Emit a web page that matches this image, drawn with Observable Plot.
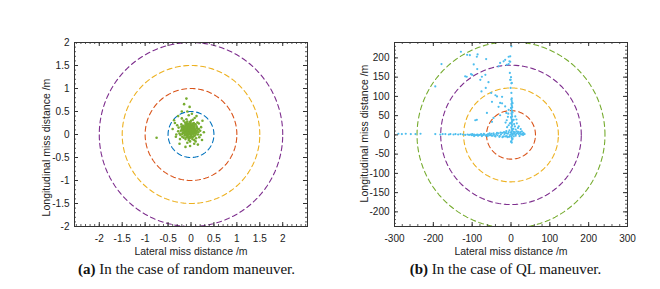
<!DOCTYPE html>
<html><head><meta charset="utf-8">
<script src="https://cdn.jsdelivr.net/npm/d3@7"></script>
<script src="https://cdn.jsdelivr.net/npm/@observablehq/plot@0.6"></script>
<style>
body{margin:0;background:#fff;}
#wrap{position:relative;width:660px;height:289px;overflow:hidden;background:#fff;}
#wrap svg{position:absolute;top:0;}
.cap{position:absolute;top:261px;font-family:"Liberation Serif","Times New Roman",serif;font-size:15px;line-height:17px;text-align:center;width:320px;color:#111;white-space:nowrap;}
</style></head><body><div id="wrap"></div>
<script>
// ---- Panel (a): random maneuver, miss distances (lateral, longitudinal) in m
const randomManeuverPts = [
 [-0.05,0.08],[-0.02,0.12],[0.03,0.05],[-0.10,0.10],[-0.08,0.02],[0.00,0.00],[0.05,0.12],[-0.13,0.06],[-0.04,0.18],[0.02,0.20],
 [-0.15,0.15],[0.08,0.03],[-0.18,0.04],[-0.07,-0.03],[0.04,-0.05],[-0.11,0.20],[0.10,0.10],[-0.20,0.12],[-0.01,0.25],[0.06,0.18],
 [-0.14,-0.02],[0.12,0.06],[-0.22,0.08],[-0.06,0.24],[0.09,-0.02],[-0.03,-0.08],[-0.17,0.19],[0.13,0.14],[-0.09,0.14],[0.01,0.09],
 [-0.12,0.00],[0.07,0.08],[-0.06,0.05],[-0.02,0.02],[0.04,0.15],[-0.16,0.10],[-0.10,-0.06],[0.03,-0.10],[-0.25,0.02],[0.15,0.00],
 [-0.08,0.28],[0.10,0.22],[-0.21,0.22],[-0.19,-0.05],[0.11,-0.08],[-0.05,-0.12],[0.06,0.25],[-0.13,0.26],[0.00,0.30],[-0.27,0.15],
 [0.17,0.12],[-0.03,0.14],[-0.07,0.11],[0.02,0.07],[-0.11,0.04],[-0.04,0.01],[0.05,0.01],[-0.09,0.07],[-0.01,0.16],[-0.14,0.12],
 [0.08,0.14],[-0.06,0.19],[0.03,0.23],[-0.18,0.16],[0.12,0.18],[-0.23,-0.01],[-0.12,-0.10],[0.07,-0.12],[-0.02,-0.15],[0.16,0.05],
 [-0.28,0.07],[-0.16,0.30],[0.04,0.32],[-0.10,0.33],[0.14,0.26],[0.20,0.08],[-0.30,0.20],[0.18,-0.06],[-0.24,-0.10],[-0.08,-0.18],
 [0.10,-0.15],[-0.32,0.00],[0.22,0.16],[-0.20,0.35],[0.08,0.36],
 [-0.06,0.09],[-0.03,0.04],[0.01,0.13],[-0.08,0.16],[-0.12,0.08],[0.00,0.05],[-0.04,0.10],[-0.10,0.13],[0.02,0.02],[-0.07,0.00],
 [0.05,0.09],[-0.15,0.03],[-0.05,0.15],[-0.01,0.21],[0.09,0.06],[-0.13,0.17],[-0.09,0.22],[0.06,-0.04],[-0.17,0.08],[0.01,-0.03],
 [-0.11,0.25],[0.11,0.02],[-0.19,0.01],[-0.02,0.27],[0.07,0.21],[-0.06,-0.07],[0.14,0.09],[-0.21,0.17],[0.03,0.17],[-0.16,-0.07],
 [-0.37,0.31],[0.17,0.24],[0.21,-0.01],[-0.33,-0.05],[-0.12,-0.27],[0.07,-0.20],[-0.15,0.66],[-0.03,0.60],[-0.08,0.50],[-0.10,0.78],
 [-0.75,-0.07],[0.25,0.30],[-0.28,0.40],[0.02,0.45],[-0.40,0.12],[0.28,0.05],[-0.25,-0.20],[0.15,-0.22],[-0.05,0.42],[-0.20,0.50],
 [0.12,0.40],[-0.02,-0.25],[-0.35,0.25],[0.24,-0.12],
 [-0.07,0.06],[-0.01,0.06],[-0.09,0.04],[-0.03,0.09],[-0.06,0.13],[0.00,0.11],[-0.11,0.15],[0.04,0.10],[-0.14,0.09],[-0.05,0.03],
 [0.02,0.16],[-0.08,0.19],[-0.12,0.21],[0.05,0.05],[-0.02,-0.04],[-0.09,-0.01],[0.08,0.11],[-0.16,0.14],[-0.04,0.22],[0.01,-0.06]
];
const radiiA = [0.5, 1, 1.5, 2];
const colorsA = ["#0072BD", "#D95319", "#EDB120", "#7E2F8E"];
const xTicksA = [-2, -1.5, -1, -0.5, 0, 0.5, 1, 1.5, 2];
const yTicksA = [-2, -1.5, -1, -0.5, 0, 0.5, 1, 1.5, 2];

// ---- Panel (b): QL maneuver
const qlManeuverPts = [
 [-290,3],[-281,2],[-271,3],[-258,2],[-246,2],[-233,3],[-195,2],[-182,1],[-176,2],[-169,2],[-160,1],[-156,2],[-148,1],[-143,2],[-136,1],[-130,2],[-124,1],[-118,0],[-112,1],
 [-108,0],[-104,1],[-101,-1],[-98,0],[-95,1],[-92,-1],[-89,0],[-86,1],[-83,-1],[-80,0],[-77,2],[-74,-1],[-71,0],[-68,1],[-65,-2],[-62,0],[-59,2],[-56,-1],[-53,0],[-50,3],
 [-47,-2],[-44,1],[-41,-3],[-38,2],[-35,-1],[-32,4],[-29,-3],[-26,1],[-23,5],[-20,-4],[-17,2],[-14,6],[-11,-3],[-8,3],[-5,-5],[-2,1],
 [-50,-2],[-45,4],[-40,-4],[-36,5],[-30,-5],[-27,6],[-22,-6],[-18,7],[-15,-4],[-12,4],[-9,-6],[-6,7],[-3,-3],[-60,-3],[-70,3],[-85,-2],[-95,-3],[-100,2],[-75,-3],[-55,4],
 [2,-20],[1,-16],[3,-12],[2,-8],[1,-4],[3,0],[2,4],[1,8],[3,12],[2,16],[1,20],[3,24],[2,28],[1,32],[3,36],[2,40],[1,44],[3,48],[2,52],[1,56],
 [3,60],[2,64],[1,68],[3,72],[2,76],[1,80],[3,84],[2,88],[1,92],[2,95],[0,-18],[4,-10],[0,6],[4,14],[0,30],[4,38],[0,46],[4,58],[0,70],[4,82],
 [1,109],[-1,122],[2,135],[-2,143],[0,150],[-3,161],[-6,184],[-4,191],[-2,204],[-11,182],[-15,195],[-6,203],[-2,190],[1,230],[-1,143],[1,134],
 [5,2],[8,4],[11,1],[14,3],[17,5],[20,2],[23,4],[26,1],[29,3],[32,5],[35,2],[6,8],[10,7],[15,9],[19,8],[24,7],[28,9],[31,0],[12,-2],[22,-3],[7,-4],
 [-11,38],[-3,30],[10,22],[-8,47],[7,39],[15,30],[11,48],[-6,25],[-10,20],[6,16],[12,14],[18,18],[-4,12],[-12,10],[8,28],[-14,32],[3,34],[-7,55],[-12,57],[-6,65],[14,40],[20,22],[25,15],
 [-179,184],[-195,126],[-129,216],[-106,207],[-86,209],[-64,197],[-96,183],[-87,171],[-118,152],[-103,158],[-79,143],[-58,137],[-28,187],[-19,191],[-32,178],[-76,113],[-65,122],
 [-51,109],[-36,100],[-28,83],[-15,74],[-88,39],[-62,57],[-45,44],[-113,208],[-88,203],[-100,156],[-75,151],[-66,156],[-114,151],[-40,103],[-23,99],[-49,86],[-32,73],[-23,82],
 [-92,38],[-49,34],[-28,51]
];
const radiiB = [63, 122, 181, 242];
const colorsB = ["#D95319", "#EDB120", "#7E2F8E", "#77AC30"];
const xTicksB = [-300, -200, -100, 0, 100, 200, 300];
const yTicksB = [-200, -150, -100, -50, 0, 50, 100, 150, 200];

const captionA = "In the case of random maneuver.";
const captionB = "In the case of QL maneuver.";
const xLabel = "Lateral miss distance /m";
const yLabel = "Longitudinal miss distance /m";

function circlePts(r) {
  return d3.range(0, 361, 2).map(a => ({x: r * Math.cos(a * Math.PI / 180), y: r * Math.sin(a * Math.PI / 180)}));
}

function panel(o) {
  const W = 330, H = 262, mT = 42, mB = 36;
  const fh = H - mT - mB;
  const ink = "#333";
  const marks = [];
  o.radii.forEach((r, i) => marks.push(Plot.line(circlePts(r), {x: "x", y: "y", stroke: o.colors[i], strokeWidth: 1.1, strokeDasharray: "5,3.5", clip: true})));
  marks.push(Plot.dot(o.pts, {x: d => d[0], y: d => d[1], r: o.r, fill: o.color, stroke: null}));
  const tk = (vals, len, sw) => [
    Plot.tickX(vals, {x: d => d, stroke: ink, strokeWidth: sw, insetTop: fh - len}),
    Plot.tickX(vals, {x: d => d, stroke: ink, strokeWidth: sw, insetBottom: fh - len})
  ];
  const fw = W - o.mL - o.mR;
  const tky = (vals, len, sw) => [
    Plot.tickY(vals, {y: d => d, stroke: ink, strokeWidth: sw, insetRight: fw - len}),
    Plot.tickY(vals, {y: d => d, stroke: ink, strokeWidth: sw, insetLeft: fw - len})
  ];
  marks.push(...tk(o.xMinor, 2, 0.8), ...tk(o.xTicks, 4, 1), ...tky(o.yMinor, 2, 0.8), ...tky(o.yTicks, 4, 1));
  marks.push(Plot.frame({stroke: ink, strokeWidth: 1}));
  marks.push(Plot.axisX(o.xTicks, {anchor: "bottom", tickSize: 0, tickPadding: 8, tickFormat: d => String(d), label: null, fill: "#222"}));
  marks.push(Plot.axisY(o.yTicks, {anchor: "left", tickSize: 0, tickPadding: 5, tickFormat: d => String(d), label: null, fill: "#222"}));
  marks.push(Plot.text([xLabel], {frameAnchor: "bottom", dy: 28, textAnchor: "middle", fontSize: 10.5, fill: "#222"}));
  marks.push(Plot.text([yLabel], {frameAnchor: "left", textAnchor: "middle", dx: o.yLabDx, dy: o.yLabDy, rotate: -90, fontSize: 10.5, fill: "#222"}));
  const svg = Plot.plot({
    width: W, height: H, marginLeft: o.mL, marginRight: o.mR, marginTop: mT, marginBottom: mB,
    x: {domain: o.xDomain}, y: {domain: o.yDomain},
    style: {fontFamily: "'Liberation Sans', Arial, sans-serif", fontSize: "10px", background: "transparent", overflow: "visible"},
    marks
  });
  svg.style.left = o.left + "px";
  return svg;
}

const wrap = document.getElementById("wrap");
wrap.appendChild(panel({
  pts: randomManeuverPts, color: "#77AC30", r: 1.3, radii: radiiA, colors: colorsA,
  xDomain: [-2.54, 2.54], yDomain: [-2, 2], xTicks: xTicksA, yTicks: yTicksA,
  xMinor: d3.range(-25, 26).map(v => v / 10), yMinor: d3.range(-20, 21).map(v => v / 10),
  left: 0, mL: 74, mR: 23, yLabDx: -28, yLabDy: 13
}));
wrap.appendChild(panel({
  pts: qlManeuverPts, color: "#4DBEEE", r: 1.1, radii: radiiB, colors: colorsB,
  xDomain: [-300, 300], yDomain: [-238, 240], xTicks: xTicksB, yTicks: yTicksB,
  xMinor: d3.range(-300, 301, 20), yMinor: d3.range(-230, 231, 10),
  left: 330, mL: 64, mR: 33, yLabDx: -30, yLabDy: -1
}));
const ca = document.createElement("div");
ca.className = "cap"; ca.style.left = (186.5 - 160) + "px";
ca.innerHTML = "<b>(a)</b> " + captionA;
wrap.appendChild(ca);
const cb = document.createElement("div");
cb.className = "cap"; cb.style.left = (505.5 - 160) + "px";
cb.innerHTML = "<b>(b)</b> " + captionB;
wrap.appendChild(cb);
</script>
</body></html>
